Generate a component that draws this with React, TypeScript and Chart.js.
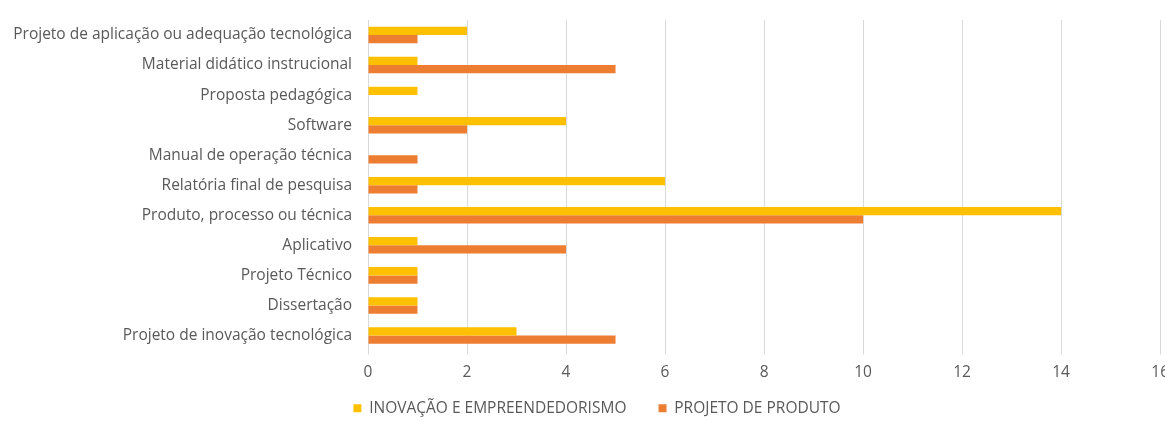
import React, { useEffect, useRef } from "react";
import { Chart, registerables } from "chart.js";

Chart.register(...registerables);

const categories = [
  "Projeto de aplicação ou adequação tecnológica",
  "Material didático instrucional",
  "Proposta pedagógica",
  "Software",
  "Manual de operação técnica",
  "Relatória final de pesquisa",
  "Produto, processo ou técnica",
  "Aplicativo",
  "Projeto Técnico",
  "Dissertação",
  "Projeto de inovação tecnológica",
];

const inovacao = [2, 1, 1, 4, 0, 6, 14, 1, 1, 1, 3];
const projetoProduto = [1, 5, 0, 2, 1, 1, 10, 4, 1, 1, 5];

const seriesNames = ["INOVAÇÃO E EMPREENDEDORISMO", "PROJETO DE PRODUTO"];
const xMin = 0;
const xMax = 16;
const xStep = 2;

const shiftLegend = {
  id: "shiftLegend",
  afterLayout(chart: any) {
    const l = chart.legend;
    if (l) {
      l.left += 8;
      l.right += 8;
    }
  },
};

export default function App() {
  const ref = useRef<HTMLCanvasElement | null>(null);

  useEffect(() => {
    if (!ref.current) return;
    const font = "'Open Sans', 'Noto Sans', sans-serif";
    const size = 15.5;
    const chart = new Chart(ref.current, {
      type: "bar",
      data: {
        labels: categories,
        datasets: [
          {
            label: seriesNames[0],
            data: inovacao,
            backgroundColor: "#FFC000",
            categoryPercentage: 0.55,
            barPercentage: 1,
          },
          {
            label: seriesNames[1],
            data: projetoProduto,
            backgroundColor: "#ED7D31",
            categoryPercentage: 0.55,
            barPercentage: 1,
          },
        ],
      },
      plugins: [shiftLegend],
      options: {
        indexAxis: "y",
        animation: false,
        responsive: false,
        layout: { padding: { top: 20, bottom: 0, left: 0, right: 0 } },
        plugins: {
          legend: {
            position: "bottom",
            labels: {
              boxWidth: 8,
              boxHeight: 8,
              color: "#595959",
              font: { family: font, size: size },
              padding: 20,
              generateLabels: (c: any) => {
                const items = Chart.defaults.plugins.legend.labels.generateLabels(c);
                return items.map((it: any, i: number) => ({
                  ...it,
                  text: i === 0 ? it.text + "   " : it.text,
                }));
              },
            },
          },
          tooltip: { enabled: false },
        },
        scales: {
          x: {
            min: xMin,
            max: xMax,
            ticks: { stepSize: xStep, color: "#595959", font: { family: font, size: size }, padding: 9 },
            grid: { color: "#D9D9D9", drawTicks: true, tickLength: 4 },
            border: { display: false },
            afterFit: (scale: any) => {
              scale.height = 30;
              scale.paddingLeft = 0;
            },
          },
          y: {
            ticks: { color: "#595959", font: { family: font, size: size }, padding: 16, autoSkip: false },
            grid: { display: false, drawTicks: false },
            border: { display: false },
            afterFit: (scale: any) => {
              scale.width = 368;
              scale.paddingTop = 0;
              scale.paddingBottom = 0;
            },
          },
        },
      },
    });
    return () => chart.destroy();
  }, []);

  return (
    <div style={{ position: "absolute", left: 0, top: 0, width: 1165, height: 421, overflow: "hidden", background: "#fff" }}>
      <canvas ref={ref} width={1178} height={426} style={{ width: 1178, height: 426, display: "block" }} />
    </div>
  );
}
